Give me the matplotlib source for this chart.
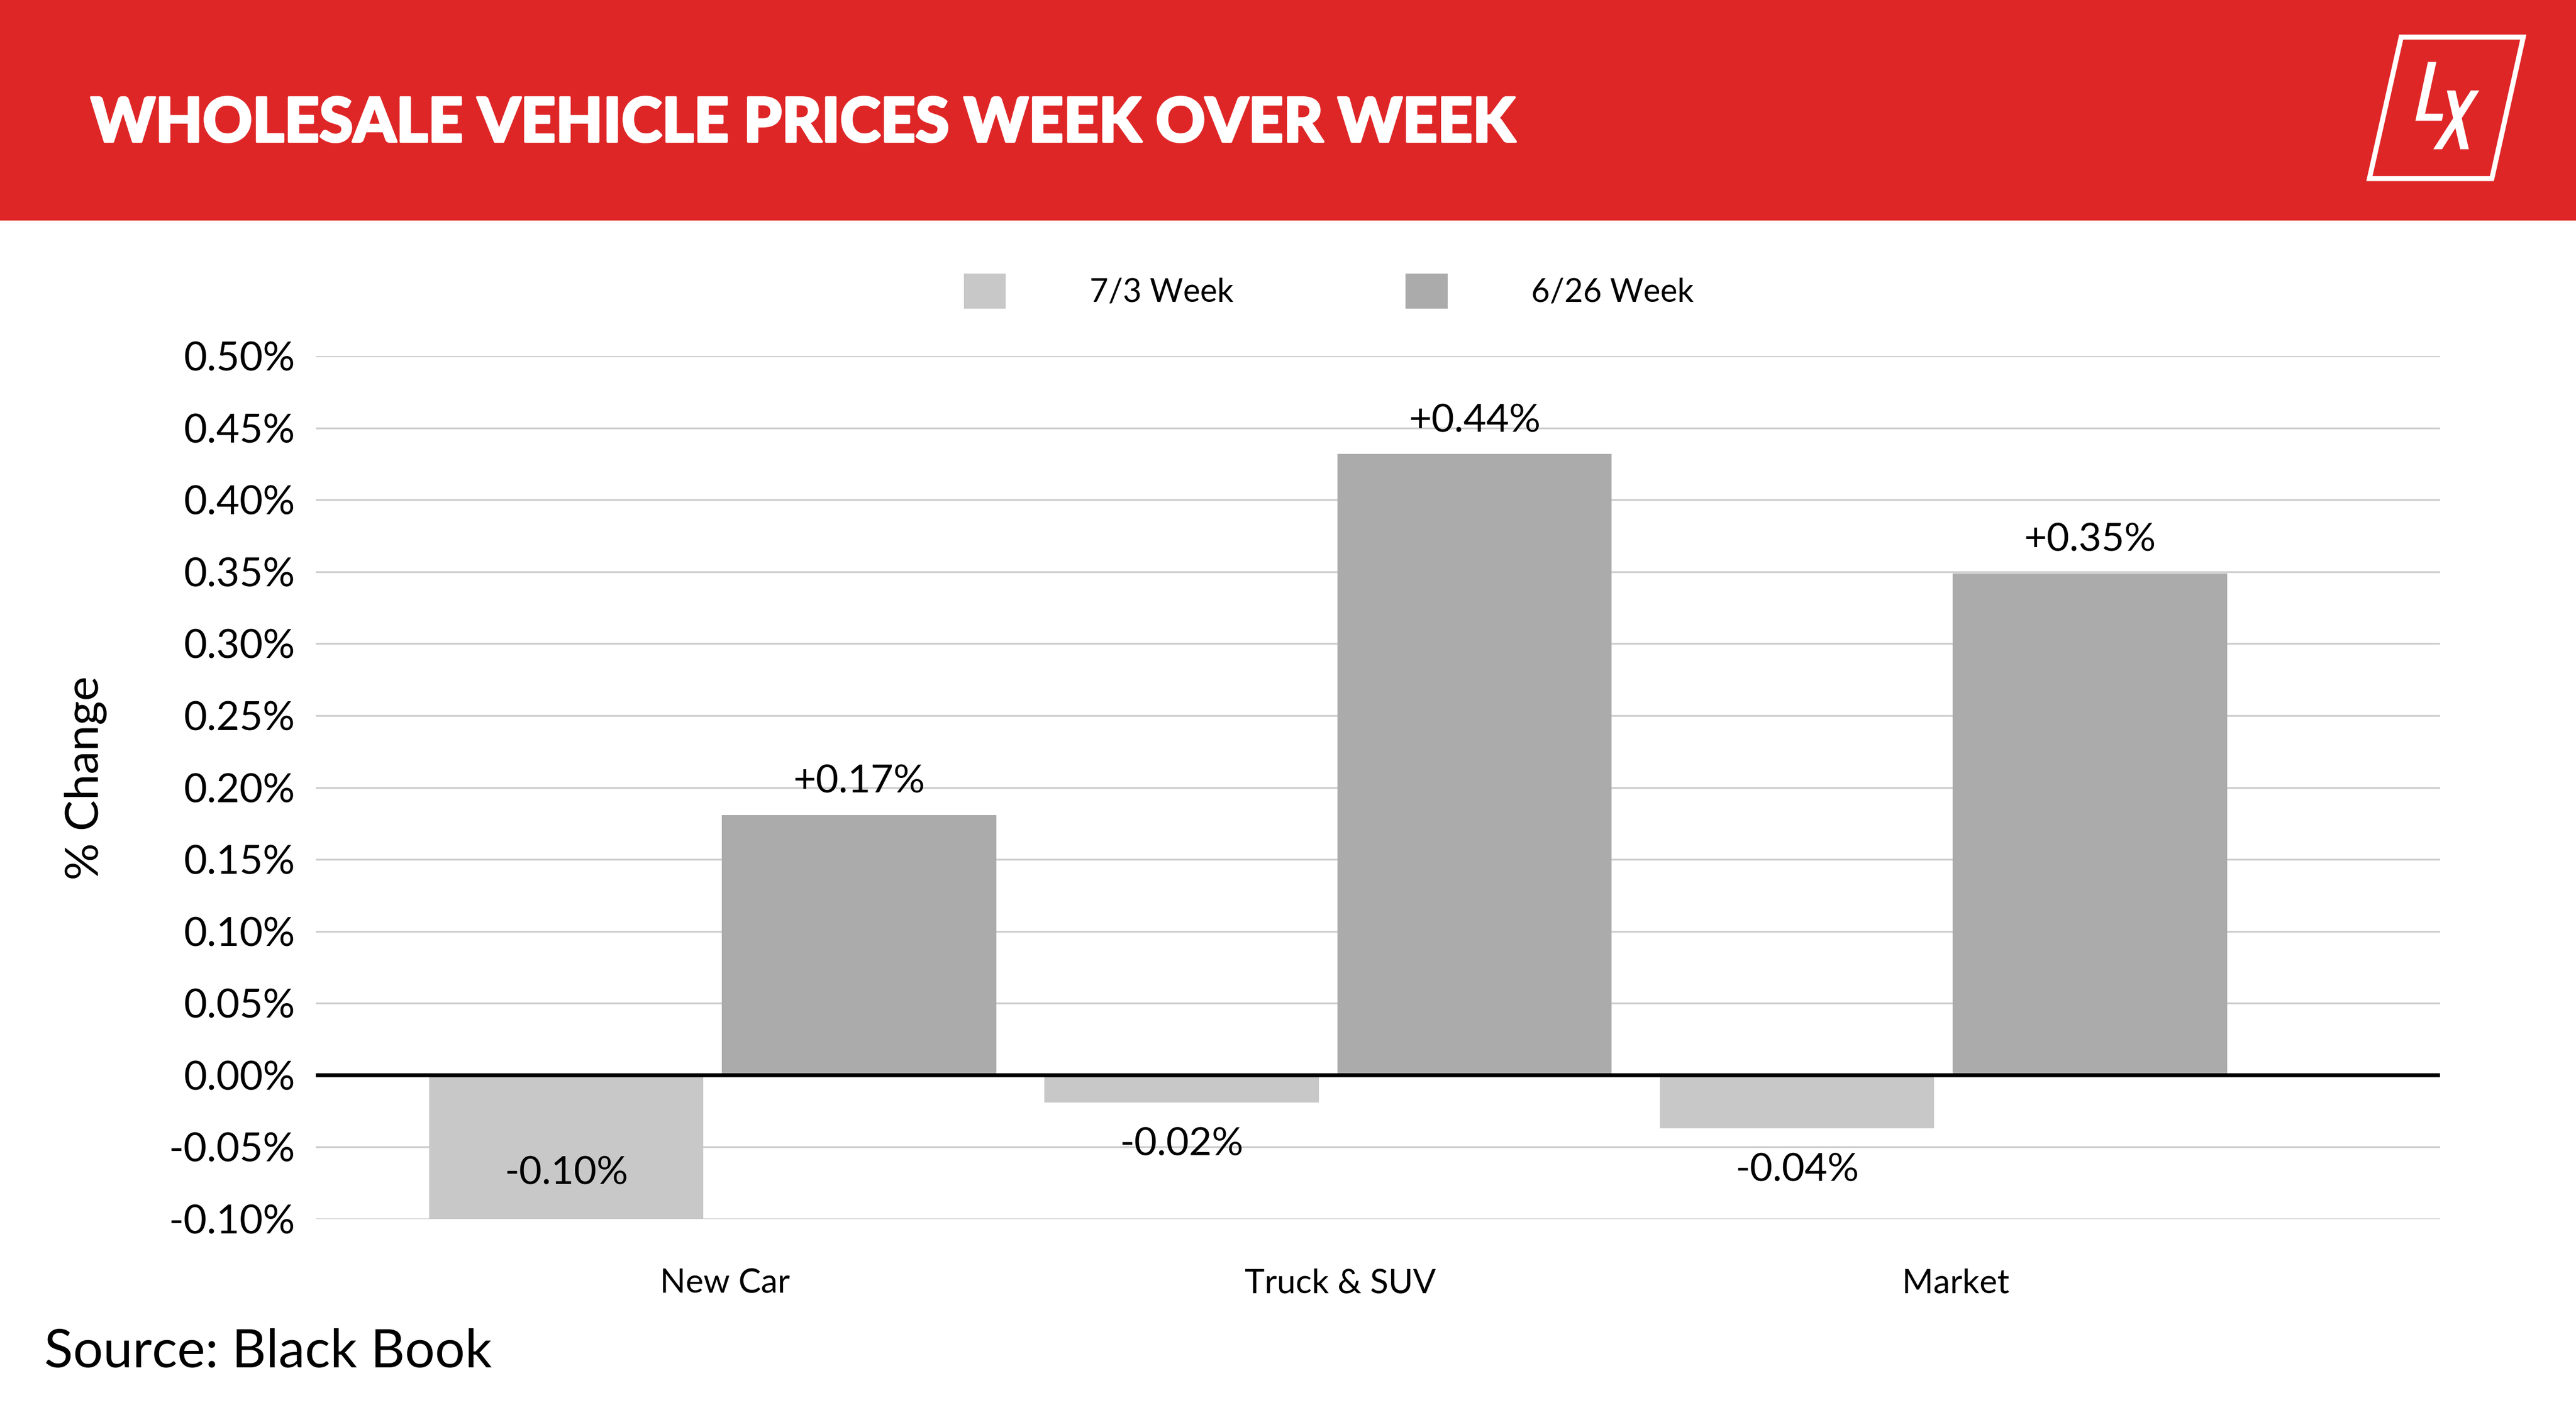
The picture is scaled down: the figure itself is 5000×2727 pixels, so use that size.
import matplotlib
matplotlib.use("Agg")
import matplotlib.pyplot as plt
import matplotlib.patheffects as pe
import numpy as np
from matplotlib.patches import Polygon, Rectangle

plt.rcParams['font.family'] = ['Lato', 'DejaVu Sans']

categories = ["New Car", "Truck & SUV", "Market"]
series_names = ["7/3 Week", "6/26 Week"]
week_73 = [-0.100, -0.019, -0.037]
week_626 = [0.181, 0.432, 0.349]
labels_73 = ["-0.10%", "-0.02%", "-0.04%"]
labels_626 = ["+0.17%", "+0.44%", "+0.35%"]
yticks = [-0.10, -0.05, 0.00, 0.05, 0.10, 0.15, 0.20, 0.25, 0.30, 0.35, 0.40, 0.45, 0.50]

RED = "#df2627"
C73 = "#c8c8c8"
C626 = "#ababab"

W, H = 5000, 2727
fig = plt.figure(figsize=(W / 100, H / 100), dpi=100)

# overlay in pixel coordinates for banner / logo / footer text
bg = fig.add_axes([0, 0, 1, 1], zorder=0)
bg.set_xlim(0, W)
bg.set_ylim(H, 0)
bg.axis("off")
bg.add_patch(Rectangle((0, 0), W, 428, color=RED, lw=0))
bg.text(176, 241, "WHOLESALE VEHICLE PRICES WEEK OVER WEEK", color="white",
        fontsize=85.5, fontweight="black", va="center", ha="left",
        path_effects=[pe.withStroke(linewidth=3, foreground="white")])

# logo: slanted frame with L and X
def px(pts):
    return [(4500 + x / 3, y / 3) for x, y in pts]

bg.add_patch(Polygon(px([(482, 216), (1193, 216), (1010, 1040), (297, 1040)]),
                     closed=True, fill=False, ec="white", lw=7, joinstyle="miter"))
bg.add_patch(Polygon(px([(638, 360), (687, 360), (621, 662), (727, 662), (719, 703), (565, 703)]),
                     closed=True, fc="white", lw=0))
bg.add_patch(Polygon(px([(748, 527), (798, 527), (876, 869), (826, 869)]), closed=True, fc="white", lw=0))
bg.add_patch(Polygon(px([(888, 527), (937, 527), (720, 869), (669, 869)]), closed=True, fc="white", lw=0))

bg.text(86, 2624, "Source: Black Book", fontsize=74, va="center", ha="left", color="black")
bg.text(166, 1510, "% Change", fontsize=65, rotation=90, va="center", ha="center", color="black")

# main chart
left, right = 613 / W, 4736 / W
bottom, top = 1 - 2366 / H, 1 - 691 / H
ax = fig.add_axes([left, bottom, right - left, top - bottom], zorder=1)
ax.patch.set_alpha(0)

x = np.arange(len(categories))
bw = 0.446
off = 0.238
b1 = ax.bar(x - off, week_73, bw, color=C73, label=series_names[0], zorder=2)
b2 = ax.bar(x + off, week_626, bw, color=C626, label=series_names[1], zorder=2)

ax.set_xlim(-0.645, 2.807)
ax.set_ylim(-0.10, 0.50)
ax.set_yticks(yticks)
ax.set_yticklabels(["%.2f%%" % v for v in yticks])
ax.set_xticks(x + 0.02)
ax.set_xticklabels(categories)
ax.tick_params(axis="y", length=0, pad=29, labelsize=56)
ax.tick_params(axis="x", length=0, pad=69, labelsize=47)
ax.grid(axis="y", color="#cccccc", lw=2.5, zorder=0)
ax.set_axisbelow(True)
for s in ax.spines.values():
    s.set_visible(False)
ax.axhline(0, color="black", lw=5.5, zorder=3)

for xi, v, t in zip(x, week_626, labels_626):
    ax.text(xi + off, v + 0.023, t, ha="center", va="center", fontsize=55, zorder=4)
for xi, v, t in zip(x, week_73, labels_73):
    ax.text(xi - off, max(v - 0.029, -0.068), t, ha="center", va="center", fontsize=55, zorder=4)

fig.legend(handles=[b1, b2], labels=series_names, loc="center left",
           bbox_to_anchor=(1871 / W, 1 - 565 / H), ncol=2, frameon=False,
           fontsize=45, handlelength=1.3, handleheight=1.3, handletextpad=2.6,
           columnspacing=5.35, borderpad=0, borderaxespad=0)

fig.savefig("out.png", dpi=100)
